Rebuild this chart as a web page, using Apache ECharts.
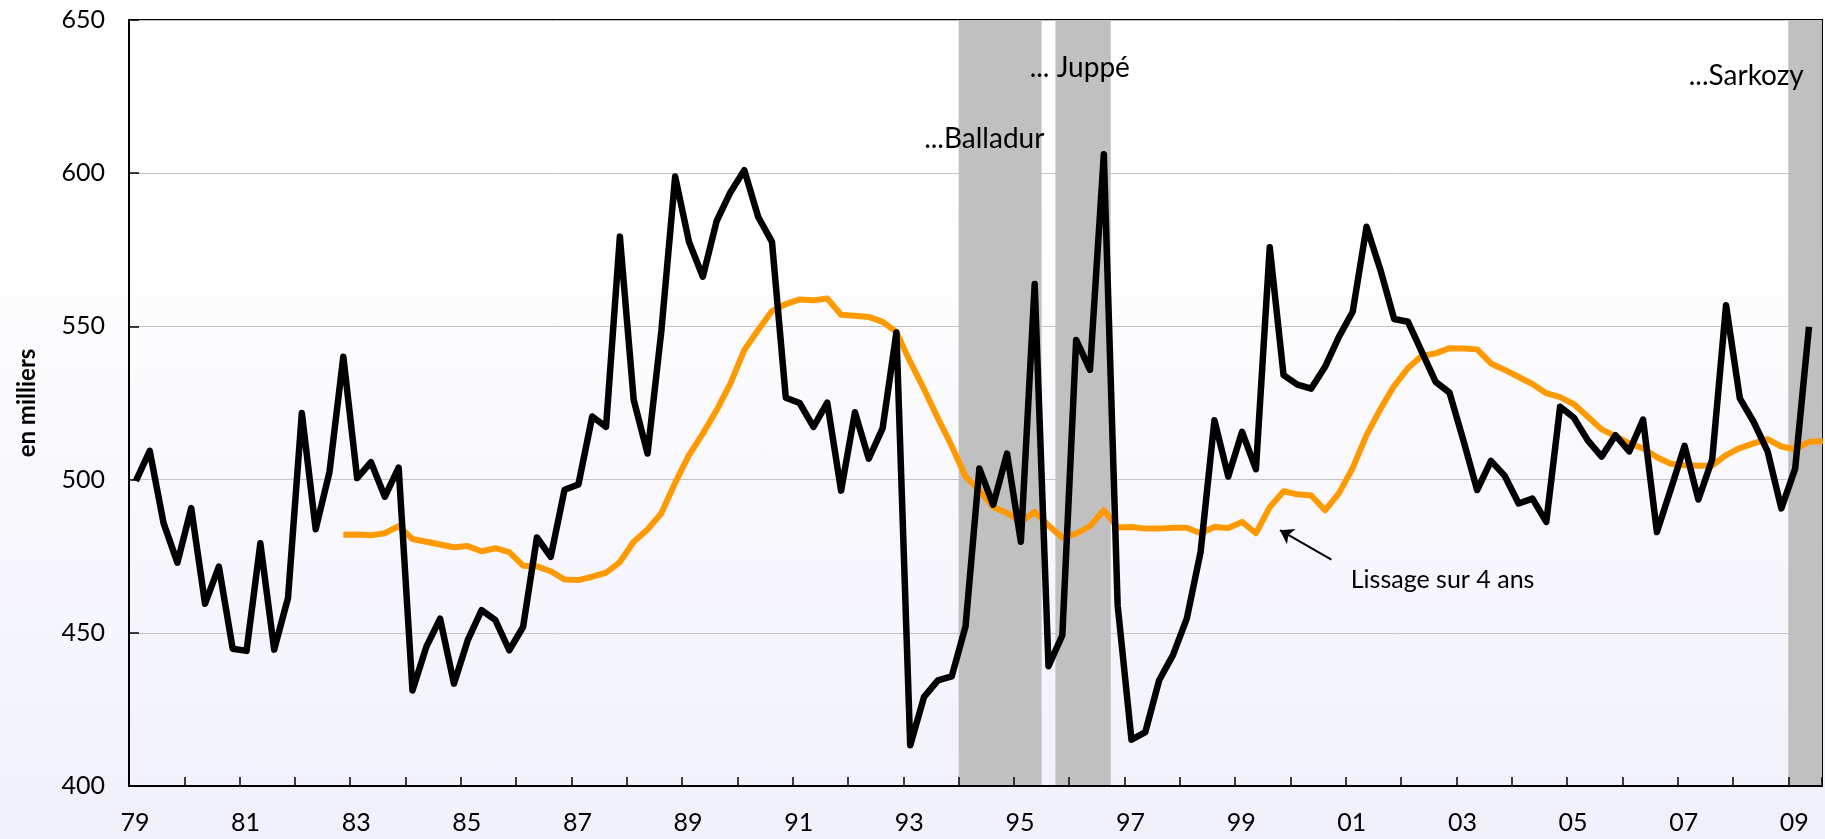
<!DOCTYPE html>
<html lang="fr">
<head>
<meta charset="UTF-8">
<title>emplois - lissage sur 4 ans</title>
<script src="https://cdn.jsdelivr.net/npm/echarts@6/dist/echarts.min.js"></script>
<style>
    html, body { margin: 0; padding: 0; }
    #main {
        width: 1825px; height: 839px;
        background: linear-gradient(to bottom, #ffffff 0%, #ffffff 25%, #f0f0fb 100%);
    }
</style>
</head>
<body>
<div id="main"></div>
<script>
    // données trimestrielles, 1979T1 -> 2009T2 (en milliers)
    var startYear = 1979;
    var serie = [
        499.6, 509.4, 485.8, 472.9, 490.7, 459.5, 471.6, 444.8, 444.1, 479.2,
        444.5, 461.4, 521.7, 483.8, 502.5, 540.1, 500.5, 505.7, 494.4, 503.9,
        431.2, 445.4, 454.6, 433.4, 447.6, 457.4, 454.1, 444.3, 451.9, 481.1,
        474.8, 496.7, 498.4, 520.6, 517.2, 579.3, 526.0, 508.5, 548.5, 598.9,
        577.6, 566.2, 584.4, 593.8, 601.0, 585.8, 577.6, 526.7, 525.0, 517.2,
        525.1, 496.4, 522.0, 506.8, 516.7, 548.0, 413.3, 429.1, 434.5, 435.8,
        452.1, 503.6, 491.8, 508.5, 479.7, 563.8, 439.1, 449.2, 545.6, 535.8,
        606.2, 459.0, 415.1, 417.6, 434.5, 442.7, 454.6, 476.4, 519.4, 501.0,
        515.6, 503.4, 575.8, 534.1, 531.0, 529.7, 536.8, 546.6, 554.8, 582.5,
        568.5, 552.4, 551.5, 541.7, 531.9, 528.4, 512.9, 496.6, 506.1, 501.2,
        492.2, 493.8, 486.2, 523.8, 520.2, 512.8, 507.5, 514.5, 509.2, 519.6,
        482.9, 496.8, 511.0, 493.5, 506.6, 556.9, 526.5, 518.8, 509.3, 490.6,
        503.6, 549.9
    ];
    // lissage sur 4 ans, commence en 1982T4
    var lissageStart = 15;
    var lissage = [
        482.0, 482.1, 481.8, 482.5, 484.8, 480.6, 479.7, 478.8, 477.9, 478.3,
        476.6, 477.6, 476.3, 471.9, 471.7, 470.1, 467.4, 467.2, 468.3, 469.6,
        473.1, 479.7, 483.7, 489.0, 499.0, 508.0, 515.0, 522.7, 531.4, 542.3,
        548.8, 555.0, 557.3, 558.8, 558.5, 559.1, 553.8, 553.5, 553.1, 551.5,
        548.2, 538.4, 529.5, 520.0, 511.0, 501.0, 496.5, 491.0, 489.2, 486.2,
        489.5, 485.0, 481.0, 482.4, 484.8, 490.0, 484.4, 484.5, 484.0, 484.0,
        484.3, 484.3, 482.5, 484.5, 484.2, 486.2, 482.5, 491.0, 496.2, 495.2,
        494.8, 490.0, 495.5, 503.8, 514.5, 523.0, 530.6, 536.4, 540.4, 541.2,
        542.9, 542.8, 542.5, 537.9, 535.8, 533.5, 531.2, 528.2, 526.9, 524.6,
        520.5, 516.4, 514.2, 511.8, 510.2, 507.3, 505.2, 504.7, 504.5, 504.6,
        508.0, 510.3, 511.8, 513.2, 510.8, 509.9, 512.3, 512.6
    ];
    var xMax = 2009.61;
    var labelYears = [1979, 1981, 1983, 1985, 1987, 1989, 1991, 1993, 1995, 1997, 1999, 2001, 2003, 2005, 2007, 2009];
    var yearLabels = ['79', '81', '83', '85', '87', '89', '91', '93', '95', '97', '99', '01', '03', '05', '07', '09'];
    // périodes grisées
    var bands = [[1994.0, 1995.5], [1995.75, 1996.75], [2009.0, xMax]];
    var bandTexts = [
        {text: '...Balladur', x: 1995.55, y: 611.1, align: 'right'},
        {text: '... Juppé', x: 1996.19, y: 634.5, align: 'center'},
        {text: '...Sarkozy', x: 2008.24, y: 631.8, align: 'center'}
    ];

    function quarterTime(i) {
        return startYear + 0.125 + i / 4;
    }

    var serieData = serie.map(function (v, i) { return [quarterTime(i), v]; });
    var lissageData = lissage.map(function (v, i) { return [quarterTime(i + lissageStart), v]; });

    var font = 'Lato';
    var chart = echarts.init(document.getElementById('main'));
    var option = {
        animation: false,
        grid: {
            left: 129, top: 20, right: 0, bottom: 53,
            show: true, borderColor: '#000', borderWidth: 2, backgroundColor: 'transparent'
        },
        xAxis: {
            type: 'value',
            min: startYear,
            max: xMax,
            interval: 1,
            z: 3,
            axisLine: {lineStyle: {color: '#000', width: 2}},
            axisTick: {inside: true, length: 9, lineStyle: {color: '#000', width: 1.5}},
            axisLabel: {
                color: '#000', fontSize: 25, fontFamily: font, margin: 24, padding: [0, 0, 0, 12],
                formatter: function (v) {
                    var k = labelYears.indexOf(Math.round(v * 1000) / 1000);
                    return k < 0 ? '' : yearLabels[k];
                }
            },
            splitLine: {show: false}
        },
        yAxis: {
            type: 'value',
            min: 400,
            max: 650,
            interval: 50,
            name: 'en milliers',
            nameLocation: 'middle',
            nameGap: 90,
            nameTextStyle: {fontSize: 24, fontWeight: 'bold', fontFamily: font, color: '#000'},
            axisLine: {show: true, lineStyle: {color: '#000', width: 2}},
            axisTick: {show: true, inside: true, length: 10, lineStyle: {color: '#000', width: 1.5}},
            axisLabel: {color: '#000', fontSize: 25, fontFamily: font, margin: 24},
            splitLine: {lineStyle: {color: '#c4c4c4', width: 1}}
        },
        series: [
            {
                name: 'Lissage sur 4 ans',
                type: 'line',
                data: lissageData,
                symbol: 'none',
                z: 2,
                lineStyle: {color: '#ff9900', width: 6, join: 'round'},
                markArea: {
                    silent: true,
                    itemStyle: {color: '#c0c0c0'},
                    data: bands.map(function (b) { return [{xAxis: b[0]}, {xAxis: b[1]}]; })
                },
                markLine: {
                    silent: true,
                    symbol: ['none', 'arrow'],
                    symbolSize: 13,
                    label: {show: false},
                    lineStyle: {color: '#000', width: 2, type: 'solid'},
                    data: [[{coord: [2000.74, 473.9]}, {coord: [1999.81, 483.5]}]]
                },
                markPoint: {
                    silent: true,
                    symbol: 'circle',
                    symbolSize: 0,
                    label: {show: true, position: 'inside', color: '#000', fontFamily: font, verticalAlign: 'middle'},
                    data: bandTexts.map(function (t) {
                        return {coord: [t.x, t.y], label: {formatter: t.text, align: t.align, fontSize: 28}};
                    }).concat([{
                        coord: [2001.09, 467.3],
                        label: {formatter: 'Lissage sur 4 ans', align: 'left', fontSize: 25}
                    }])
                }
            },
            {
                name: 'Emploi',
                type: 'line',
                data: serieData,
                symbol: 'none',
                z: 3,
                lineStyle: {color: '#000', width: 6.5, join: 'round'}
            }
        ]
    };
    chart.setOption(option);
</script>
</body>
</html>
